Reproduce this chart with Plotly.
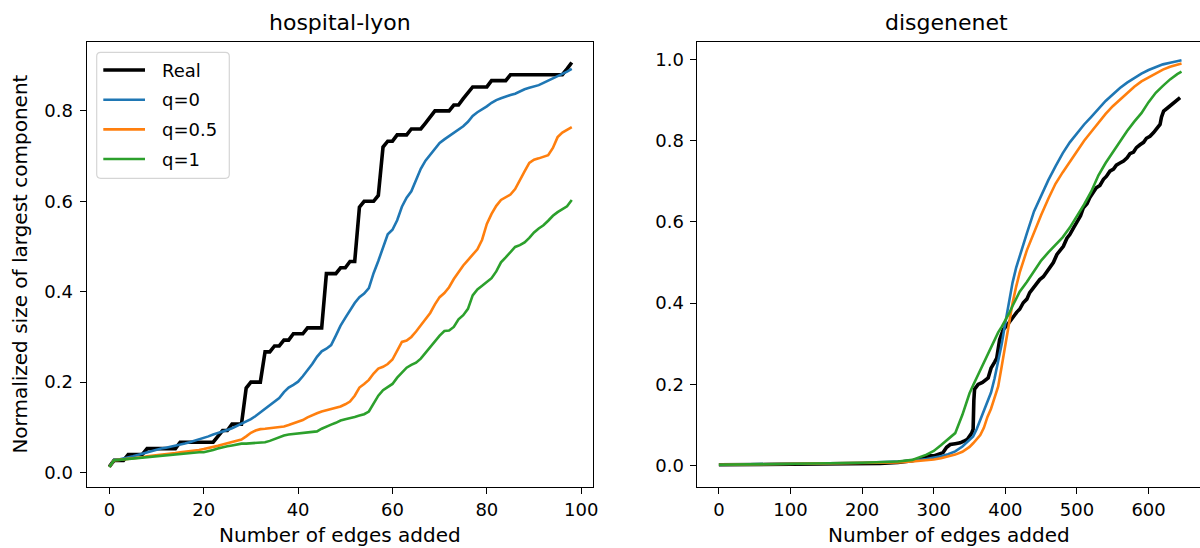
import plotly.graph_objects as go

# ---------------- data: hospital-lyon ----------------
hl_real = [0.013, 0.027, 0.027, 0.027, 0.040, 0.040, 0.040, 0.040, 0.053, 0.053,
           0.053, 0.053, 0.053, 0.053, 0.053, 0.067, 0.067, 0.067, 0.067, 0.067,
           0.067, 0.067, 0.067, 0.080, 0.093, 0.093, 0.107, 0.107, 0.107, 0.187,
           0.200, 0.200, 0.200, 0.267, 0.267, 0.280, 0.280, 0.293, 0.293, 0.307,
           0.307, 0.307, 0.320, 0.320, 0.320, 0.320, 0.440, 0.440, 0.440, 0.453,
           0.453, 0.467, 0.467, 0.587, 0.600, 0.600, 0.600, 0.613, 0.720, 0.733,
           0.733, 0.747, 0.747, 0.747, 0.760, 0.760, 0.760, 0.773, 0.787, 0.800,
           0.800, 0.800, 0.800, 0.813, 0.813, 0.827, 0.840, 0.853, 0.853, 0.853,
           0.853, 0.867, 0.867, 0.867, 0.867, 0.880, 0.880, 0.880, 0.880, 0.880,
           0.880, 0.880, 0.880, 0.880, 0.880, 0.880, 0.880, 0.893, 0.907]
hl_q0 = [0.012, 0.028, 0.029, 0.031, 0.033, 0.036, 0.039, 0.042, 0.045, 0.048,
         0.051, 0.053, 0.055, 0.057, 0.059, 0.062, 0.064, 0.067, 0.070, 0.073,
         0.076, 0.080, 0.084, 0.087, 0.090, 0.094, 0.098, 0.103, 0.107, 0.112,
         0.118, 0.125, 0.133, 0.140, 0.148, 0.157, 0.165, 0.178, 0.188, 0.194,
         0.201, 0.213, 0.226, 0.240, 0.256, 0.268, 0.274, 0.282, 0.303, 0.325,
         0.342, 0.358, 0.375, 0.388, 0.396, 0.408, 0.441, 0.468, 0.500, 0.527,
         0.537, 0.558, 0.588, 0.608, 0.622, 0.645, 0.672, 0.690, 0.703, 0.717,
         0.729, 0.737, 0.744, 0.752, 0.760, 0.766, 0.776, 0.789, 0.797, 0.803,
         0.810, 0.818, 0.824, 0.828, 0.832, 0.835, 0.838, 0.843, 0.848, 0.851,
         0.854, 0.857, 0.862, 0.867, 0.871, 0.876, 0.882, 0.887, 0.893]
hl_q05 = [0.012, 0.027, 0.028, 0.029, 0.030, 0.031, 0.033, 0.034, 0.036, 0.037,
          0.038, 0.039, 0.040, 0.042, 0.043, 0.045, 0.046, 0.047, 0.049, 0.050,
          0.052, 0.054, 0.057, 0.059, 0.062, 0.065, 0.068, 0.070, 0.073, 0.080,
          0.088, 0.093, 0.096, 0.097, 0.098, 0.099, 0.100, 0.102, 0.105, 0.109,
          0.112, 0.116, 0.122, 0.127, 0.131, 0.135, 0.138, 0.140, 0.143, 0.146,
          0.151, 0.157, 0.170, 0.188, 0.196, 0.205, 0.219, 0.230, 0.234, 0.240,
          0.250, 0.268, 0.289, 0.292, 0.300, 0.312, 0.325, 0.338, 0.353, 0.372,
          0.388, 0.397, 0.410, 0.428, 0.443, 0.458, 0.470, 0.483, 0.494, 0.515,
          0.550, 0.572, 0.590, 0.603, 0.609, 0.615, 0.627, 0.645, 0.666, 0.685,
          0.692, 0.695, 0.699, 0.702, 0.718, 0.742, 0.752, 0.758, 0.764]
hl_q1 = [0.012, 0.027, 0.028, 0.029, 0.030, 0.031, 0.033, 0.034, 0.035, 0.036,
         0.037, 0.038, 0.039, 0.040, 0.041, 0.042, 0.043, 0.043, 0.044, 0.045,
         0.045, 0.047, 0.050, 0.053, 0.056, 0.058, 0.060, 0.062, 0.064, 0.064,
         0.065, 0.066, 0.066, 0.067, 0.070, 0.074, 0.079, 0.082, 0.084, 0.085,
         0.086, 0.087, 0.088, 0.089, 0.091, 0.097, 0.102, 0.106, 0.110, 0.115,
         0.118, 0.120, 0.123, 0.126, 0.129, 0.135, 0.153, 0.170, 0.182, 0.189,
         0.196, 0.210, 0.222, 0.232, 0.238, 0.243, 0.252, 0.265, 0.277, 0.290,
         0.303, 0.313, 0.314, 0.322, 0.339, 0.348, 0.362, 0.392, 0.405, 0.413,
         0.421, 0.430, 0.445, 0.465, 0.476, 0.488, 0.499, 0.503, 0.509, 0.519,
         0.531, 0.540, 0.547, 0.557, 0.568, 0.576, 0.582, 0.589, 0.603]
hl_x = list(range(len(hl_real)))

# ---------------- data: disgenenet ----------------
dg_x = [0, 50, 100, 150, 200, 250, 270, 290, 300, 310, 320, 330, 340, 350, 355,
        360, 365, 370, 375, 380, 385, 390, 395, 400, 405, 410, 415, 420, 430, 440,
        450, 460, 470, 480, 490, 500, 510, 520, 530, 540, 550, 560, 570, 580, 590,
        600, 610, 620, 630, 640, 646]
dg_q0 = [0.002, 0.003, 0.005, 0.006, 0.007, 0.010, 0.012, 0.016, 0.019, 0.023,
         0.028, 0.035, 0.047, 0.063, 0.072, 0.090, 0.113, 0.133, 0.155, 0.180,
         0.215, 0.255, 0.300, 0.352, 0.405, 0.450, 0.487, 0.517, 0.572, 0.626,
         0.665, 0.703, 0.737, 0.769, 0.796, 0.818, 0.840, 0.859, 0.879, 0.898,
         0.914, 0.930, 0.943, 0.955, 0.965, 0.974, 0.982, 0.988, 0.992, 0.996,
         0.998]
dg_q05 = [0.002, 0.003, 0.004, 0.005, 0.006, 0.008, 0.010, 0.013, 0.015, 0.018,
          0.022, 0.027, 0.034, 0.046, 0.055, 0.064, 0.075, 0.093, 0.120, 0.140,
          0.165, 0.195, 0.245, 0.300, 0.350, 0.400, 0.440, 0.475, 0.530, 0.575,
          0.617, 0.657, 0.694, 0.722, 0.749, 0.775, 0.800, 0.822, 0.845, 0.866,
          0.885, 0.901, 0.918, 0.933, 0.946, 0.956, 0.966, 0.975, 0.982, 0.988,
          0.990]
dg_q1 = [0.002, 0.003, 0.005, 0.006, 0.007, 0.010, 0.014, 0.027, 0.036, 0.050,
         0.065, 0.080, 0.125, 0.178, 0.198, 0.217, 0.236, 0.255, 0.273, 0.290,
         0.308, 0.328, 0.342, 0.357, 0.374, 0.393, 0.410, 0.428, 0.452, 0.480,
         0.505, 0.525, 0.543, 0.562, 0.586, 0.614, 0.643, 0.675, 0.715, 0.745,
         0.772, 0.798, 0.824, 0.847, 0.868, 0.895, 0.918, 0.935, 0.951, 0.964,
         0.970]
dg_real_x = [0, 50, 100, 150, 200, 225, 250, 270, 290, 295, 300, 305, 313, 318,
             323, 330, 337, 342, 347, 353, 355, 356, 357, 362, 368, 376, 380, 385,
             388, 392, 397, 402, 406, 411, 416, 420, 425, 430, 434, 440, 444, 448,
             453, 458, 463, 467, 472, 477, 481, 486, 490, 495, 500, 505, 509, 514,
             518, 523, 527, 532, 537, 541, 546, 551, 555, 560, 565, 570, 574, 579,
             583, 588, 593, 597, 602, 607, 611, 616, 618, 621, 626, 632, 638, 644]
dg_real = [0.002, 0.003, 0.004, 0.004, 0.005, 0.005, 0.008, 0.012, 0.020, 0.024,
           0.024, 0.027, 0.032, 0.045, 0.052, 0.054, 0.056, 0.060, 0.065, 0.080,
           0.090, 0.160, 0.188, 0.200, 0.205, 0.216, 0.240, 0.255, 0.265, 0.310,
           0.335, 0.345, 0.356, 0.366, 0.378, 0.385, 0.401, 0.410, 0.426, 0.440,
           0.450, 0.458, 0.465, 0.478, 0.490, 0.500, 0.520, 0.530, 0.540, 0.560,
           0.569, 0.585, 0.600, 0.615, 0.635, 0.645, 0.660, 0.672, 0.684, 0.690,
           0.705, 0.712, 0.725, 0.730, 0.740, 0.745, 0.750, 0.758, 0.768, 0.772,
           0.783, 0.790, 0.796, 0.806, 0.811, 0.820, 0.830, 0.840, 0.858, 0.873,
           0.880, 0.889, 0.897, 0.906]

series_names = ["Real", "q=0", "q=0.5", "q=1"]
series_colors = ["#000000", "#1f77b4", "#ff7f0e", "#2ca02c"]
series_widths = [3.6, 2.6, 2.6, 2.6]

x_ticks_left = [0, 20, 40, 60, 80, 100]
x_ticks_right = [0, 100, 200, 300, 400, 500, 600]
y_ticks_left = [0.0, 0.2, 0.4, 0.6, 0.8]
y_ticks_right = [0.0, 0.2, 0.4, 0.6, 0.8, 1.0]

W, H = 1200, 548
FONT = "DejaVu Sans"
TICK_SIZE, LABEL_SIZE, TITLE_SIZE, LEGEND_SIZE = 18, 20, 22, 18


def px(x):
    return x / W


def py(y):
    return 1 - y / H


fig = go.Figure()

left_sets = [(hl_x, hl_real), (hl_x, hl_q0), (hl_x, hl_q05), (hl_x, hl_q1)]
right_sets = [(dg_real_x, dg_real), (dg_x, dg_q0), (dg_x, dg_q05), (dg_x, dg_q1)]

for i, (xs, ys) in enumerate(left_sets):
    fig.add_trace(go.Scatter(x=xs, y=ys, mode="lines", name=series_names[i],
                             line=dict(color=series_colors[i], width=series_widths[i]),
                             xaxis="x", yaxis="y", showlegend=False))
for i, (xs, ys) in enumerate(right_sets):
    fig.add_trace(go.Scatter(x=xs, y=ys, mode="lines", name=series_names[i],
                             line=dict(color=series_colors[i], width=series_widths[i]),
                             xaxis="x2", yaxis="y2", showlegend=False))

top_px, bot_px = 42.2, 487.0
axis_common = dict(showline=True, linecolor="black", linewidth=1.3, ticks="outside",
                   ticklen=6, tickwidth=1.3, tickcolor="black", showgrid=False,
                   zeroline=False, tickfont=dict(family=FONT, size=TICK_SIZE, color="#000000"),
                   automargin=False)

fig.update_layout(
    width=W, height=H, margin=dict(l=0, r=0, t=0, b=0),
    paper_bgcolor="white", plot_bgcolor="white",
    font=dict(family=FONT, size=TICK_SIZE, color="black"),
    xaxis=dict(domain=[px(86.7), px(593.0)], range=[-4.8, 102.5], tickvals=x_ticks_left,
               anchor="y", mirror=True, **axis_common),
    yaxis=dict(domain=[py(bot_px), py(top_px)], range=[-0.032, 0.952], tickvals=y_ticks_left,
               tickformat=".1f", anchor="x", mirror=True, ticklabelstandoff=3, **axis_common),
    xaxis2=dict(domain=[px(696.7), 1.0], range=[-31, 671.8], tickvals=x_ticks_right,
                anchor="y2", mirror=True, **axis_common),
    yaxis2=dict(domain=[py(bot_px), py(top_px)], range=[-0.0527, 1.0426], tickvals=y_ticks_right,
                tickformat=".1f", anchor="x2", mirror=False, ticklabelstandoff=2, **axis_common),
    showlegend=False,
)

annotations = []
# subplot titles
annotations.append(dict(text="hospital-lyon", x=px(339.8), y=py(23.0), xref="paper", yref="paper",
                        showarrow=False, xanchor="center", yanchor="middle",
                        font=dict(family=FONT, size=TITLE_SIZE, color="black")))
annotations.append(dict(text="disgenenet", x=px(946), y=py(23.0), xref="paper", yref="paper",
                        showarrow=False, xanchor="center", yanchor="middle",
                        font=dict(family=FONT, size=TITLE_SIZE, color="black")))
# axis titles
for cx in (339.8, 949):
    annotations.append(dict(text="Number of edges added", x=px(cx), y=py(535.0), xref="paper",
                            yref="paper", showarrow=False, xanchor="center", yanchor="middle",
                            font=dict(family=FONT, size=LABEL_SIZE, color="black")))
annotations.append(dict(text="Normalized size of largest component", x=px(20),
                        y=py((top_px + bot_px) / 2), xref="paper", yref="paper",
                        showarrow=False, xanchor="center", yanchor="middle", textangle=-90,
                        font=dict(family=FONT, size=LABEL_SIZE, color="black")))

# legend (matplotlib-style rounded box)
lx0, lx1, ly0, ly1, r = 96.7, 229.3, 52.3, 178.3, 4.0
path = (f"M {px(lx0 + r)},{py(ly0)} L {px(lx1 - r)},{py(ly0)} "
        f"Q {px(lx1)},{py(ly0)} {px(lx1)},{py(ly0 + r)} "
        f"L {px(lx1)},{py(ly1 - r)} Q {px(lx1)},{py(ly1)} {px(lx1 - r)},{py(ly1)} "
        f"L {px(lx0 + r)},{py(ly1)} Q {px(lx0)},{py(ly1)} {px(lx0)},{py(ly1 - r)} "
        f"L {px(lx0)},{py(ly0 + r)} Q {px(lx0)},{py(ly0)} {px(lx0 + r)},{py(ly0)} Z")
shapes = [dict(type="path", xref="paper", yref="paper", path=path,
               line=dict(color="#d5d5d5", width=1.2),
               fillcolor="rgba(255,255,255,0.8)", layer="above")]
rows = [70, 99.7, 129.4, 159]
for i, ry in enumerate(rows):
    shapes.append(dict(type="line", xref="paper", yref="paper", x0=px(103.3), x1=px(145),
                       y0=py(ry), y1=py(ry), layer="above",
                       line=dict(color=series_colors[i], width=series_widths[i])))
    annotations.append(dict(text=series_names[i], x=px(159.5), y=py(ry), xref="paper",
                            yref="paper", showarrow=False, xanchor="left", yanchor="middle",
                            font=dict(family=FONT, size=LEGEND_SIZE, color="black")))

fig.update_layout(annotations=annotations, shapes=shapes)

fig.write_html("out.html", config={"displayModeBar": False},
               post_script="document.body.style.margin='0px';document.body.style.padding='0px';")
